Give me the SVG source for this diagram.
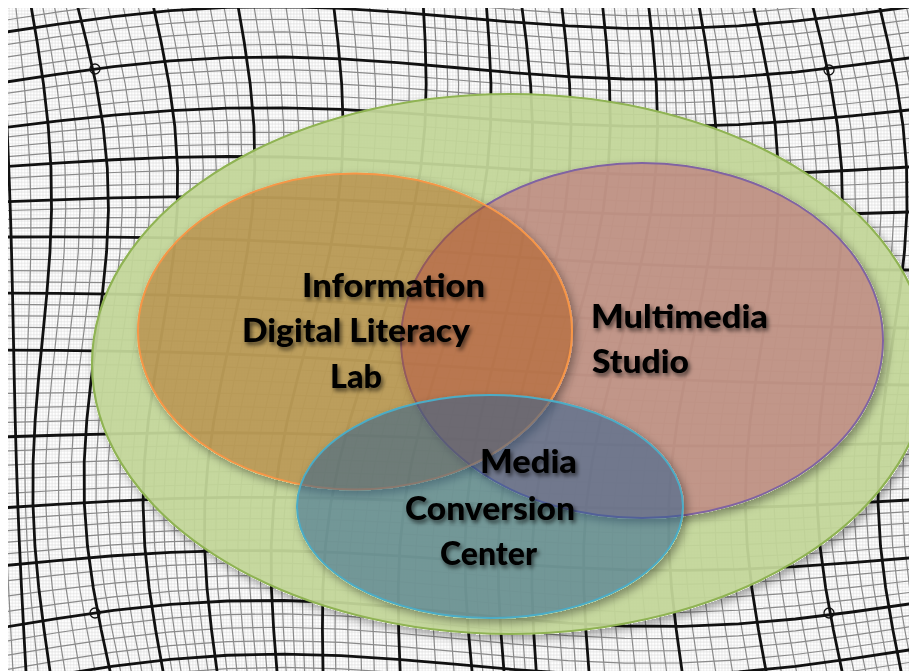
<svg xmlns="http://www.w3.org/2000/svg" width="909" height="671" viewBox="0 0 909 671">
<defs>
<style>
.lbl{font-family:Lato,"Liberation Sans",sans-serif;font-weight:900;font-size:32px;fill:#000}
.t{stroke:#111;stroke-width:2.8;fill:none}
.f{stroke:#8a8a8a;stroke-width:1.2;fill:none}
.mk{stroke:#111;stroke-width:1.3;fill:none}
</style>
<path id="S" fill="none" vector-effect="non-scaling-stroke" d="M0 -10L0 0L8.45 42L15.7 84L20.7 126L22.8 168L21.8 210L17.8 252L11.5 294L3.9 336L-3.8 378L-10.5 420L-15.2 462L-17.2 504L-16.2 546L-12.5 588L-6.7 630L0 671L0 681"/>
<path id="Q" fill="none" vector-effect="non-scaling-stroke" d="M-10 0L0 0L56.8 -7.1L113.6 -13.2L170.4 -17.4L227.3 -19.1L284.1 -18.2L340.9 -14.8L397.7 -9.4L454.5 -3L511.3 3.6L568.1 9.2L624.9 13.2L681.8 14.9L738.6 14L795.4 10.9L852.2 5.9L909 0L919 0"/>
<pattern id="sub" patternUnits="userSpaceOnUse" x="20.07" y="-10.2" width="3.0583" height="3.2375">
<path d="M1.529 0V3.2375M0 1.619H3.0583" stroke="#dcdcdc" stroke-width="0.6" fill="none"/>
</pattern>
<clipPath id="frame"><rect x="8" y="8" width="901" height="663"/></clipPath>
<filter id="es" x="-5%" y="-5%" width="115%" height="120%">
<feComponentTransfer in="SourceAlpha" result="m"><feFuncA type="linear" slope="20"/></feComponentTransfer>
<feGaussianBlur in="m" stdDeviation="4" result="b"/>
<feOffset in="b" dx="3" dy="4" result="o"/>
<feComposite in="o" in2="m" operator="out" result="sh"/>
<feFlood flood-color="#000" flood-opacity="0.35"/>
<feComposite in2="sh" operator="in" result="shc"/>
<feMerge><feMergeNode in="shc"/><feMergeNode in="SourceGraphic"/></feMerge>
</filter>
<filter id="ts" x="-10%" y="-30%" width="125%" height="170%">
<feDropShadow dx="2" dy="3" stdDeviation="2.3" flood-color="#000" flood-opacity="0.6"/>
</filter>
</defs>
<rect width="909" height="671" fill="#fff"/>
<g id="grid" clip-path="url(#frame)">
<rect x="8" y="8" width="901" height="663" fill="url(#sub)"/>
<g class="f">
<use href="#S" transform="matrix(0.075 0 0.0417 1 -15 0)"/>
<use href="#S" transform="matrix(0.4 0 0.0343 1 15 0)"/>
<use href="#S" transform="matrix(0.775 0 0.035 1 41.5 0)"/>
<use href="#S" transform="matrix(0.85 0 0.0402 1 53 0)"/>
<use href="#S" transform="matrix(0.925 0 0.0455 1 64.5 0)"/>
<use href="#S" transform="matrix(1 0 0.0438 1 91.2 0)"/>
<use href="#S" transform="matrix(1 0 0.037 1 106.4 0)"/>
<use href="#S" transform="matrix(1 0 0.0301 1 121.6 0)"/>
<use href="#S" transform="matrix(1 0 0.0232 1 136.8 0)"/>
<use href="#S" transform="matrix(1 0 0.0086 1 166.2 0)"/>
<use href="#S" transform="matrix(1 0 0.001 1 180.3 0)"/>
<use href="#S" transform="matrix(1 0 -0.0067 1 194.5 0)"/>
<use href="#S" transform="matrix(1 0 -0.0145 1 208.7 0)"/>
<use href="#S" transform="matrix(1 0 -0.0221 1 222.8 0)"/>
<use href="#S" transform="matrix(1 0 -0.0387 1 253 0)"/>
<use href="#S" transform="matrix(1 0 -0.0477 1 269 0)"/>
<use href="#S" transform="matrix(1 0 -0.0566 1 285 0)"/>
<use href="#S" transform="matrix(1 0 -0.0656 1 301 0)"/>
<use href="#S" transform="matrix(1 0 -0.0745 1 317 0)"/>
<use href="#S" transform="matrix(1 0 -0.0966 1 351 0)"/>
<use href="#S" transform="matrix(1 0 -0.1097 1 369 0)"/>
<use href="#S" transform="matrix(1 0 -0.1228 1 387 0)"/>
<use href="#S" transform="matrix(1 0 -0.1359 1 405 0)"/>
<use href="#S" transform="matrix(1 0 -0.1456 1 433.5 0)"/>
<use href="#S" transform="matrix(1 0 -0.142 1 444 0)"/>
<use href="#S" transform="matrix(1 0 -0.1386 1 454.5 0)"/>
<use href="#S" transform="matrix(1 0 -0.1352 1 465 0)"/>
<use href="#S" transform="matrix(1 0 -0.1316 1 475.5 0)"/>
<use href="#S" transform="matrix(1 0 -0.1144 1 494.75 0)"/>
<use href="#S" transform="matrix(1 0 -0.1006 1 503.5 0)"/>
<use href="#S" transform="matrix(1 0 -0.0868 1 512.25 0)"/>
<use href="#S" transform="matrix(1 0 -0.0769 1 534.3 0)"/>
<use href="#S" transform="matrix(1 0 -0.0811 1 547.7 0)"/>
<use href="#S" transform="matrix(1 0 -0.0894 1 574.7 0)"/>
<use href="#S" transform="matrix(1 0 -0.0939 1 588.3 0)"/>
<use href="#S" transform="matrix(1 0 -0.0958 1 613.5 0)"/>
<use href="#S" transform="matrix(1 0 -0.0931 1 625 0)"/>
<use href="#S" transform="matrix(1 0 -0.0905 1 636.5 0)"/>
<use href="#S" transform="matrix(1 0 -0.0772 1 656.3 0)"/>
<use href="#S" transform="matrix(1 0 -0.0666 1 664.7 0)"/>
<use href="#S" transform="matrix(1 0 -0.0559 1 673 0)"/>
<use href="#S" transform="matrix(1 0 -0.0452 1 681.3 0)"/>
<use href="#S" transform="matrix(1 0 -0.0346 1 689.7 0)"/>
<use href="#S" transform="matrix(1 0 -0.0149 1 708.8 0)"/>
<use href="#S" transform="matrix(1 0 -0.006 1 719.6 0)"/>
<use href="#S" transform="matrix(1 0 0.003 1 730.4 0)"/>
<use href="#S" transform="matrix(1 0 0.0119 1 741.2 0)"/>
<use href="#S" transform="matrix(1 0 0.0259 1 763.8 0)"/>
<use href="#S" transform="matrix(1 0 0.031 1 775.6 0)"/>
<use href="#S" transform="matrix(1 0 0.0361 1 787.4 0)"/>
<use href="#S" transform="matrix(1 0 0.0411 1 799.2 0)"/>
<use href="#S" transform="matrix(1 0 0.0438 1 824.4 0)"/>
<use href="#S" transform="matrix(1 0 0.0414 1 837.8 0)"/>
<use href="#S" transform="matrix(1 0 0.039 1 851.2 0)"/>
<use href="#S" transform="matrix(1 0 0.0367 1 864.6 0)"/>
<use href="#S" transform="matrix(1 0 0.0319 1 891.4 0)"/>
<use href="#S" transform="matrix(1 0 0.0295 1 904.8 0)"/>
<use href="#Q" transform="matrix(1 -0.0308 0 1 0 9)"/>
<use href="#Q" transform="matrix(1 -0.0297 0 1 0 21)"/>
<use href="#Q" transform="matrix(1 -0.0283 0 1 0 45.5)"/>
<use href="#Q" transform="matrix(1 -0.0281 0 1 0 58)"/>
<use href="#Q" transform="matrix(1 -0.0278 0 1 0 70.5)"/>
<use href="#Q" transform="matrix(1 -0.0256 0 0.95 0 94.25)"/>
<use href="#Q" transform="matrix(1 -0.0237 0 0.9 0 105.5)"/>
<use href="#Q" transform="matrix(1 -0.0217 0 0.85 0 116.75)"/>
<use href="#Q" transform="matrix(1 -0.0149 0 0.7375 0 137.75)"/>
<use href="#Q" transform="matrix(1 -0.0099 0 0.675 0 147.5)"/>
<use href="#Q" transform="matrix(1 -0.005 0 0.6125 0 157.25)"/>
<use href="#Q" transform="matrix(1 0.0037 0 0.5 0 178.67)"/>
<use href="#Q" transform="matrix(1 0.0073 0 0.45 0 190.33)"/>
<use href="#Q" transform="matrix(1 0.0173 0 0.375 0 210.75)"/>
<use href="#Q" transform="matrix(1 0.0237 0 0.35 0 219.5)"/>
<use href="#Q" transform="matrix(1 0.03 0 0.325 0 228.25)"/>
<use href="#Q" transform="matrix(1 0.0367 0 0.29 0 248.2)"/>
<use href="#Q" transform="matrix(1 0.0372 0 0.28 0 259.4)"/>
<use href="#Q" transform="matrix(1 0.0376 0 0.27 0 270.6)"/>
<use href="#Q" transform="matrix(1 0.0381 0 0.26 0 281.8)"/>
<use href="#Q" transform="matrix(1 0.0385 0 0.25 0 304.4)"/>
<use href="#Q" transform="matrix(1 0.0385 0 0.25 0 315.8)"/>
<use href="#Q" transform="matrix(1 0.0385 0 0.25 0 327.2)"/>
<use href="#Q" transform="matrix(1 0.0385 0 0.25 0 338.6)"/>
<use href="#Q" transform="matrix(1 0.0332 0 0.258 0 364.5)"/>
<use href="#Q" transform="matrix(1 0.0279 0 0.267 0 379)"/>
<use href="#Q" transform="matrix(1 0.0226 0 0.275 0 393.5)"/>
<use href="#Q" transform="matrix(1 0.0172 0 0.283 0 408)"/>
<use href="#Q" transform="matrix(1 0.0119 0 0.292 0 422.5)"/>
<use href="#Q" transform="matrix(1 0.0035 0 0.33 0 451.2)"/>
<use href="#Q" transform="matrix(1 0.0004 0 0.36 0 465.4)"/>
<use href="#Q" transform="matrix(1 -0.0026 0 0.39 0 479.6)"/>
<use href="#Q" transform="matrix(1 -0.0057 0 0.42 0 493.8)"/>
<use href="#Q" transform="matrix(1 -0.0088 0 0.5 0 519.6)"/>
<use href="#Q" transform="matrix(1 -0.0088 0 0.55 0 531.2)"/>
<use href="#Q" transform="matrix(1 -0.0088 0 0.6 0 542.8)"/>
<use href="#Q" transform="matrix(1 -0.0088 0 0.65 0 554.4)"/>
<use href="#Q" transform="matrix(1 -0.0132 0 0.8 0 581.5)"/>
<use href="#Q" transform="matrix(1 -0.0176 0 0.9 0 597)"/>
<use href="#Q" transform="matrix(1 -0.022 0 1 0 612.5)"/>
<use href="#Q" transform="matrix(1 -0.0294 0 1.1 0 642.25)"/>
<use href="#Q" transform="matrix(1 -0.0325 0 1.1 0 656.5)"/>
<use href="#Q" transform="matrix(1 -0.0355 0 1.1 0 670.75)"/>
<use href="#Q" transform="matrix(1 -0.0399 0 1.1 0 698.75)"/>
</g>
<g class="t">
<use href="#S" transform="matrix(0.1 0 0.0387 1 0 0)"/>
<use href="#S" transform="matrix(0.7 0 0.0298 1 30 0)"/>
<use href="#S" transform="matrix(1 0 0.0507 1 76 0)"/>
<use href="#S" transform="matrix(1 0 0.0164 1 152 0)"/>
<use href="#S" transform="matrix(1 0 -0.0298 1 237 0)"/>
<use href="#S" transform="matrix(1 0 -0.0835 1 333 0)"/>
<use href="#S" transform="matrix(1 0 -0.149 1 423 0)"/>
<use href="#S" transform="matrix(1 0 -0.128 1 486 0)"/>
<use href="#S" transform="matrix(1 0 -0.073 1 521 0)"/>
<use href="#S" transform="matrix(1 0 -0.085 1 561 0)"/>
<use href="#S" transform="matrix(1 0 -0.098 1 602 0)"/>
<use href="#S" transform="matrix(1 0 -0.088 1 648 0)"/>
<use href="#S" transform="matrix(1 0 -0.0238 1 698 0)"/>
<use href="#S" transform="matrix(1 0 0.0209 1 752 0)"/>
<use href="#S" transform="matrix(1 0 0.0462 1 811 0)"/>
<use href="#S" transform="matrix(1 0 0.0343 1 878 0)"/>
<use href="#Q" transform="matrix(1 -0.0286 0 1 0 33)"/>
<use href="#Q" transform="matrix(1 -0.0275 0 1 0 83)"/>
<use href="#Q" transform="matrix(1 -0.0198 0 0.8 0 128)"/>
<use href="#Q" transform="matrix(1 0 0 0.55 0 167)"/>
<use href="#Q" transform="matrix(1 0.011 0 0.4 0 202)"/>
<use href="#Q" transform="matrix(1 0.0363 0 0.3 0 237)"/>
<use href="#Q" transform="matrix(1 0.0385 0 0.25 0 293)"/>
<use href="#Q" transform="matrix(1 0.0385 0 0.25 0 350)"/>
<use href="#Q" transform="matrix(1 0.0066 0 0.3 0 437)"/>
<use href="#Q" transform="matrix(1 -0.0088 0 0.45 0 508)"/>
<use href="#Q" transform="matrix(1 -0.0088 0 0.7 0 566)"/>
<use href="#Q" transform="matrix(1 -0.0264 0 1.1 0 628)"/>
<use href="#Q" transform="matrix(1 -0.0385 0 1.1 0 685)"/>
</g>
<circle class="mk" cx="95" cy="69" r="5"/>
<circle class="mk" cx="829" cy="70" r="5"/>
<circle class="mk" cx="95" cy="613" r="5"/>
<circle class="mk" cx="829" cy="613" r="5"/>
</g>
<g id="node-all" filter="url(#es)">
<ellipse cx="510" cy="364" rx="418" ry="270" fill="#c2d699" fill-opacity="0.94" stroke="#8fb352" stroke-width="2.2"/>
</g>
<g id="node-multimedia" filter="url(#es)">
<ellipse cx="642" cy="340.5" rx="241" ry="177.5" fill="#be6b7a" fill-opacity="0.6" stroke="#8064a2" stroke-width="2"/>
</g>
<g id="node-information" filter="url(#es)">
<ellipse cx="355" cy="331.5" rx="217" ry="158" fill="#ae4c05" fill-opacity="0.42" stroke="#f79646" stroke-width="2"/>
</g>
<g id="node-media" filter="url(#es)">
<ellipse cx="490" cy="506.5" rx="193" ry="111.5" fill="#2c5d92" fill-opacity="0.53" stroke="#4bacc6" stroke-width="2"/>
</g>
<g id="labels" filter="url(#ts)">
<text class="lbl" x="302" y="297" textLength="183" lengthAdjust="spacingAndGlyphs">Information</text>
<text class="lbl" x="242" y="342" textLength="228" lengthAdjust="spacingAndGlyphs">Digital Literacy</text>
<text class="lbl" x="330" y="388" textLength="52" lengthAdjust="spacingAndGlyphs">Lab</text>
<text class="lbl" x="591" y="328" textLength="177" lengthAdjust="spacingAndGlyphs">Multimedia</text>
<text class="lbl" x="592" y="373" textLength="97" lengthAdjust="spacingAndGlyphs">Studio</text>
<text class="lbl" x="480" y="473" textLength="97" lengthAdjust="spacingAndGlyphs">Media</text>
<text class="lbl" x="405" y="520" textLength="170" lengthAdjust="spacingAndGlyphs">Conversion</text>
<text class="lbl" x="440" y="565" textLength="97" lengthAdjust="spacingAndGlyphs">Center</text>
</g>
</svg>
